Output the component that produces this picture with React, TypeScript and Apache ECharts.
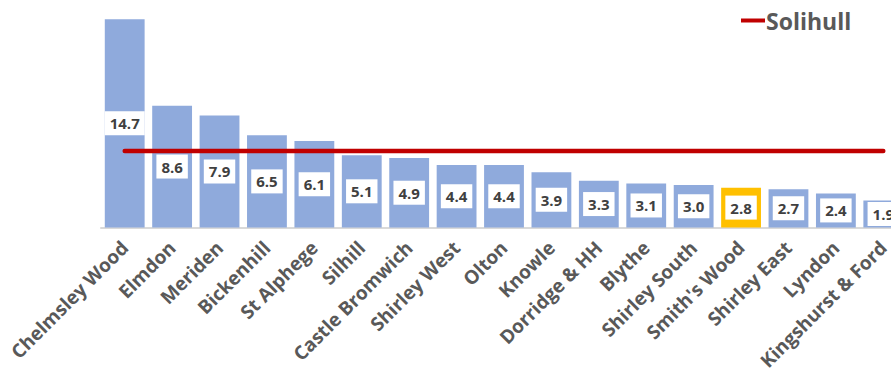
import React, { useEffect, useRef } from "react";
import * as echarts from "echarts";

const categories = [
  "Chelmsley Wood", "Elmdon", "Meriden", "Bickenhill", "St Alphege", "Silhill",
  "Castle Bromwich", "Shirley West", "Olton", "Knowle", "Dorridge & HH", "Blythe",
  "Shirley South", "Smith's Wood", "Shirley East", "Lyndon", "Kingshurst & Ford",
];
const wardValues = [14.7, 8.6, 7.9, 6.5, 6.1, 5.1, 4.9, 4.4, 4.4, 3.9, 3.3, 3.1, 3.0, 2.8, 2.7, 2.4, 1.9];
const solihullValue = 5.4;
const highlighted = "Smith's Wood";

export default function App() {
  const ref = useRef<HTMLDivElement>(null);
  useEffect(() => {
    if (!ref.current) return;
    const chart = echarts.init(ref.current, null, { renderer: "svg" });
    const font = "'Open Sans', 'Noto Sans', sans-serif";
    chart.setOption({
      animation: false,
      textStyle: { fontFamily: font },
      grid: { left: 101, top: 15, height: 213, width: 806 },
      legend: {
        data: ["Solihull"],
        left: 736,
        top: 4,
        icon: "rect",
        itemWidth: 24,
        itemHeight: 4,
        itemGap: 2,
        textStyle: { fontSize: 23, fontWeight: "bold", color: "#595959", fontFamily: font, padding: [0, 0, 0, -4] },
      },
      xAxis: {
        type: "category",
        data: categories,
        axisLine: { show: true, lineStyle: { color: "#D9D9D9", width: 2 } },
        axisTick: { show: false },
        axisLabel: {
          rotate: 45,
          interval: 0,
          margin: 17,
          fontSize: 19,
          fontWeight: "bold",
          color: "#595959",
          fontFamily: font,
        },
      },
      yAxis: {
        type: "value",
        min: 0,
        max: 15,
        show: false,
        splitLine: { show: false },
      },
      series: [
        {
          name: "Wards",
          type: "bar",
          barCategoryGap: "16%",
          data: wardValues.map((v, i) => ({
            value: v,
            itemStyle: { color: categories[i] === highlighted ? "#FFC000" : "#8FAADC" },
          })),
          label: {
            show: true,
            position: "inside",
            formatter: (p: any) => Number(p.value).toFixed(1),
            backgroundColor: "#FFFFFF",
            padding: [5, 5, 4, 5],
            fontSize: 15,
            fontWeight: "bold",
            color: "#404040",
            fontFamily: font,
          },
        },
        {
          name: "Solihull",
          type: "line",
          data: categories.map(() => solihullValue),
          showSymbol: false,
          symbol: "none",
          itemStyle: { color: "#C00000" },
          lineStyle: { color: "#C00000", width: 4.5, cap: "round" },
          z: 5,
        },
      ],
    });
    return () => chart.dispose();
  }, []);
  return (
    <div style={{ position: "fixed", left: 0, top: 0, width: 891, height: 373, overflow: "hidden", background: "#fff" }}>
      <div ref={ref} style={{ width: 930, height: 373 }} />
    </div>
  );
}
